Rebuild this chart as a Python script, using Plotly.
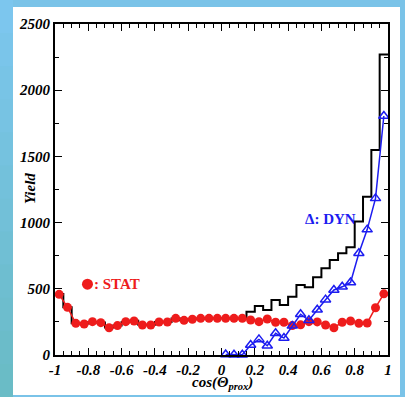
import numpy as np
import plotly.graph_objects as go

# ---------------- data ----------------
bin_edges = [round(-1 + 0.05 * i, 2) for i in range(41)]
bin_centers = [round(-0.975 + 0.05 * i, 3) for i in range(40)]

total_yield = [460, 360, 240, 238, 250, 245, 208, 222, 250, 258,
               228, 228, 250, 250, 276, 262, 270, 276, 278, 278,
               278, 278, 278, 327, 370, 340, 415, 378, 440, 529,
               511, 587, 655, 718, 768, 814, 1008, 1196, 1548, 2270]

stat_yield = [458, 360, 239, 234, 252, 244, 206, 222, 252, 257,
              227, 227, 249, 249, 277, 262, 270, 277, 277, 277,
              277, 277, 277, 264, 252, 272, 247, 247, 222, 228,
              252, 250, 227, 206, 247, 257, 239, 242, 357, 462]

dyn_x = [0.025, 0.075, 0.125, 0.175, 0.225, 0.275, 0.325, 0.375, 0.425, 0.475,
         0.525, 0.575, 0.625, 0.675, 0.725, 0.775, 0.825, 0.875, 0.925, 0.975]
dyn_yield = [4, 2, 2, 75, 118, 70, 164, 128, 220, 308,
             262, 342, 418, 491, 515, 548, 768, 947, 1183, 1805]

x_tickvals = [-1, -0.8, -0.6, -0.4, -0.2, 0, 0.2, 0.4, 0.6, 0.8, 1]
x_ticktext = ["-1", "-0.8", "-0.6", "-0.4", "-0.2", "0", "0.2", "0.4", "0.6", "0.8", "1"]
y_tickvals = [0, 500, 1000, 1500, 2000, 2500]
y_ticktext = ["0", "500", "1000", "1500", "2000", "2500"]

SERIF = "Liberation Serif, Times New Roman, serif"
RED = "#ee1c1c"
BLUE = "#1c1cf0"

fig = go.Figure()

# histogram (total) as step line
fig.add_trace(go.Scatter(
    x=bin_edges, y=total_yield + [total_yield[-1]],
    mode="lines", line=dict(color="black", width=2, shape="hv"),
    showlegend=False, hoverinfo="skip"))

# STAT (red filled circles)
fig.add_trace(go.Scatter(
    x=bin_centers, y=stat_yield, mode="lines+markers",
    line=dict(color=RED, width=1.5),
    marker=dict(symbol="circle", size=9, color=RED),
    showlegend=False, cliponaxis=False))

# DYN (blue open triangles)
fig.add_trace(go.Scatter(
    x=dyn_x, y=dyn_yield, mode="lines+markers",
    line=dict(color=BLUE, width=1.5),
    marker=dict(symbol="triangle-up-open", size=9, color=BLUE,
                line=dict(width=1.5, color=BLUE)),
    showlegend=False, cliponaxis=False))

# legend-like marker for STAT label
fig.add_trace(go.Scatter(
    x=[-0.805], y=[535], mode="markers",
    marker=dict(symbol="circle", size=11, color=RED),
    showlegend=False, hoverinfo="skip"))

# ---------------- background panel ----------------
W, H = 405, 397
L, R, T, B = 55, 388, 24, 355


def px(p):
    return (p - L) / (R - L)


def py(p):
    return (B - p) / (B - T)


shapes = []
n = 12
top_c = np.array([0x7c, 0xc6, 0xee])
bot_c = np.array([0x6a, 0xbc, 0xc6])
for i in range(n):
    f = i / (n - 1)
    c = (top_c * (1 - f) + bot_c * f).astype(int)
    shapes.append(dict(type="rect", xref="paper", yref="paper",
                       x0=px(0), x1=px(13), y0=py(H * i / n), y1=py(H * (i + 1) / n + 1),
                       fillcolor="rgb(%d,%d,%d)" % tuple(c), line=dict(width=0), layer="below"))
shapes.append(dict(type="rect", xref="paper", yref="paper",
                   x0=px(13), x1=px(400), y0=py(395), y1=py(7),
                   fillcolor="white", line=dict(width=0), layer="below"))

tickfont = dict(family=SERIF, size=15, color="black", weight="bold", style="italic")
titlefont = dict(family=SERIF, size=15, color="black", weight="bold", style="italic")

fig.update_layout(
    width=W, height=H,
    margin=dict(l=L, r=W - R, t=T, b=H - B),
    paper_bgcolor="#7ac3e8",
    plot_bgcolor="white",
    shapes=shapes,
    xaxis=dict(range=[-1, 1], tickvals=x_tickvals, ticktext=x_ticktext,
               ticks="inside", ticklen=7, tickwidth=1, tickcolor="black",
               minor=dict(dtick=0.05, tick0=0, ticks="inside", ticklen=4, tickcolor="black"),
               showline=True, linewidth=2, linecolor="black", mirror="allticks",
               showgrid=False, zeroline=False, tickfont=tickfont),
    yaxis=dict(range=[0, 2500], tickvals=y_tickvals, ticktext=y_ticktext,
               ticks="inside", ticklen=7, tickwidth=1, tickcolor="black",
               minor=dict(dtick=250, tick0=0, ticks="inside", ticklen=4, tickcolor="black"),
               showline=True, linewidth=2, linecolor="black", mirror="allticks",
               showgrid=False, zeroline=False, tickfont=tickfont),
    annotations=[
        dict(x=px(222), y=py(372), xref="paper", yref="paper", yanchor="top",
             text="cos(Θ<sub>prox</sub>)", showarrow=False, font=titlefont),
        dict(x=px(20), y=py(189), xref="paper", yref="paper", textangle=-90,
             text="Yield", showarrow=False, font=titlefont),
        dict(x=-0.625, y=535, xref="x", yref="y", text=": STAT", showarrow=False,
             font=dict(family=SERIF, size=15, color=RED, weight="bold")),
        dict(x=0.652, y=1027, xref="x", yref="y", text="Δ: DYN", showarrow=False,
             font=dict(family=SERIF, size=15, color=BLUE, weight="bold")),
    ],
)

fig.write_html("out.html")
